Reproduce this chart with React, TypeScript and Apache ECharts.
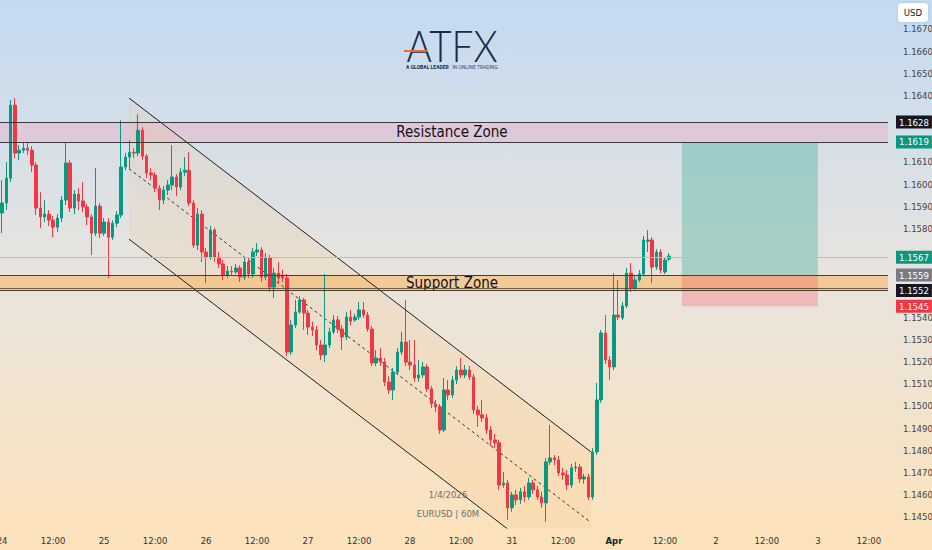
import React, { useEffect, useRef } from 'react';
import * as echarts from 'echarts';

// ---- DATA ----
const tickLabels = ['24', '12:00', '25', '12:00', '26', '12:00', '27', '12:00', '28', '12:00', '31', '12:00', 'Apr', '12:00', '2', '12:00', '3', '12:00'];
const HOURS = 209;
const categories = Array.from({ length: HOURS }, (_, i) => String(i));
const priceLabelTop = 1.1670;

// [open, close, low, high]
const ohlc: number[][] = [
  [1.15870, 1.15915, 1.15779, 1.16018],
  [1.15915, 1.16027, 1.15883, 1.16099],
  [1.16027, 1.16356, 1.16009, 1.16379],
  [1.16356, 1.16140, 1.16117, 1.16388],
  [1.16140, 1.16153, 1.16108, 1.16176],
  [1.16153, 1.16162, 1.16140, 1.16189],
  [1.16162, 1.16153, 1.16131, 1.16189],
  [1.16153, 1.16086, 1.16054, 1.16171],
  [1.16086, 1.15892, 1.15861, 1.16099],
  [1.15892, 1.15852, 1.15802, 1.15964],
  [1.15852, 1.15865, 1.15829, 1.15928],
  [1.15865, 1.15838, 1.15811, 1.15883],
  [1.15838, 1.15806, 1.15761, 1.15856],
  [1.15806, 1.15847, 1.15784, 1.15865],
  [1.15847, 1.15928, 1.15829, 1.15946],
  [1.15928, 1.16095, 1.15906, 1.16185],
  [1.16095, 1.15892, 1.15874, 1.16108],
  [1.15892, 1.15955, 1.15865, 1.15973],
  [1.15955, 1.15924, 1.15883, 1.15982],
  [1.15924, 1.15897, 1.15874, 1.16009],
  [1.15897, 1.15852, 1.15815, 1.15910],
  [1.15852, 1.15779, 1.15680, 1.15865],
  [1.15779, 1.15901, 1.15766, 1.16072],
  [1.15901, 1.15779, 1.15757, 1.15915],
  [1.15779, 1.15829, 1.15766, 1.15847],
  [1.15829, 1.15761, 1.15577, 1.15847],
  [1.15761, 1.15824, 1.15748, 1.15838],
  [1.15824, 1.15861, 1.15806, 1.15879],
  [1.15861, 1.16077, 1.15847, 1.16288],
  [1.16077, 1.16122, 1.16063, 1.16140],
  [1.16122, 1.16144, 1.16063, 1.16198],
  [1.16144, 1.16140, 1.16117, 1.16162],
  [1.16140, 1.16243, 1.16126, 1.16315],
  [1.16243, 1.16126, 1.16108, 1.16257],
  [1.16126, 1.16050, 1.16027, 1.16135],
  [1.16050, 1.16041, 1.16018, 1.16072],
  [1.16041, 1.15982, 1.15964, 1.16054],
  [1.15982, 1.15928, 1.15883, 1.15996],
  [1.15928, 1.15973, 1.15910, 1.15991],
  [1.15973, 1.15996, 1.15951, 1.16018],
  [1.15996, 1.16032, 1.15973, 1.16176],
  [1.16032, 1.15987, 1.15946, 1.16045],
  [1.15987, 1.16054, 1.15973, 1.16072],
  [1.16054, 1.16063, 1.16036, 1.16122],
  [1.16063, 1.15915, 1.15901, 1.16144],
  [1.15915, 1.15725, 1.15712, 1.15928],
  [1.15725, 1.15865, 1.15703, 1.15892],
  [1.15865, 1.15694, 1.15649, 1.15883],
  [1.15694, 1.15671, 1.15554, 1.15712],
  [1.15671, 1.15793, 1.15658, 1.15811],
  [1.15793, 1.15671, 1.15649, 1.15802],
  [1.15671, 1.15640, 1.15622, 1.15694],
  [1.15640, 1.15590, 1.15568, 1.15658],
  [1.15590, 1.15608, 1.15577, 1.15631],
  [1.15608, 1.15604, 1.15586, 1.15631],
  [1.15604, 1.15622, 1.15595, 1.15640],
  [1.15622, 1.15581, 1.15559, 1.15635],
  [1.15581, 1.15649, 1.15568, 1.15667],
  [1.15649, 1.15595, 1.15577, 1.15667],
  [1.15595, 1.15694, 1.15577, 1.15712],
  [1.15694, 1.15703, 1.15676, 1.15734],
  [1.15703, 1.15581, 1.15559, 1.15716],
  [1.15581, 1.15667, 1.15568, 1.15689],
  [1.15667, 1.15536, 1.15514, 1.15680],
  [1.15536, 1.15599, 1.15487, 1.15622],
  [1.15599, 1.15577, 1.15554, 1.15649],
  [1.15590, 1.15577, 1.15559, 1.15613],
  [1.15577, 1.15243, 1.15225, 1.15595],
  [1.15243, 1.15365, 1.15230, 1.15388],
  [1.15365, 1.15424, 1.15352, 1.15478],
  [1.15424, 1.15478, 1.15415, 1.15496],
  [1.15478, 1.15419, 1.15343, 1.15487],
  [1.15419, 1.15356, 1.15320, 1.15433],
  [1.15356, 1.15343, 1.15315, 1.15379],
  [1.15343, 1.15275, 1.15252, 1.15361],
  [1.15275, 1.15230, 1.15207, 1.15297],
  [1.15230, 1.15275, 1.15198, 1.15595],
  [1.15275, 1.15334, 1.15261, 1.15352],
  [1.15334, 1.15388, 1.15324, 1.15410],
  [1.15388, 1.15347, 1.15329, 1.15406],
  [1.15347, 1.15311, 1.15252, 1.15365],
  [1.15311, 1.15401, 1.15297, 1.15424],
  [1.15401, 1.15383, 1.15365, 1.15433],
  [1.15388, 1.15401, 1.15379, 1.15415],
  [1.15401, 1.15433, 1.15388, 1.15469],
  [1.15433, 1.15410, 1.15397, 1.15469],
  [1.15410, 1.15347, 1.15334, 1.15424],
  [1.15347, 1.15194, 1.15180, 1.15361],
  [1.15194, 1.15216, 1.15180, 1.15252],
  [1.15216, 1.15198, 1.15180, 1.15261],
  [1.15198, 1.15108, 1.15090, 1.15216],
  [1.15108, 1.15072, 1.15054, 1.15135],
  [1.15072, 1.15153, 1.15027, 1.15171],
  [1.15153, 1.15243, 1.15140, 1.15261],
  [1.15243, 1.15288, 1.15230, 1.15334],
  [1.15288, 1.15198, 1.15180, 1.15478],
  [1.15198, 1.15185, 1.15162, 1.15297],
  [1.15185, 1.15126, 1.15108, 1.15297],
  [1.15126, 1.15140, 1.15108, 1.15207],
  [1.15140, 1.15176, 1.15126, 1.15198],
  [1.15176, 1.15077, 1.15063, 1.15189],
  [1.15077, 1.15009, 1.14991, 1.15090],
  [1.15009, 1.14996, 1.14973, 1.15027],
  [1.14996, 1.14892, 1.14874, 1.15009],
  [1.14892, 1.15072, 1.14883, 1.15126],
  [1.15072, 1.15050, 1.15027, 1.15117],
  [1.15050, 1.15117, 1.15036, 1.15135],
  [1.15117, 1.15162, 1.15099, 1.15180],
  [1.15162, 1.15140, 1.15126, 1.15216],
  [1.15140, 1.15162, 1.15126, 1.15185],
  [1.15162, 1.15131, 1.15117, 1.15180],
  [1.15131, 1.14982, 1.14964, 1.15144],
  [1.14982, 1.14960, 1.14906, 1.15000],
  [1.14960, 1.14946, 1.14928, 1.15027],
  [1.14946, 1.14892, 1.14874, 1.14964],
  [1.14892, 1.14847, 1.14820, 1.14910],
  [1.14847, 1.14834, 1.14811, 1.14874],
  [1.14834, 1.14644, 1.14622, 1.14847],
  [1.14644, 1.14653, 1.14631, 1.14703],
  [1.14653, 1.14541, 1.14487, 1.14667],
  [1.14541, 1.14599, 1.14523, 1.14613],
  [1.14599, 1.14577, 1.14554, 1.14622],
  [1.14577, 1.14613, 1.14559, 1.14631],
  [1.14613, 1.14590, 1.14568, 1.14640],
  [1.14590, 1.14653, 1.14577, 1.14676],
  [1.14653, 1.14622, 1.14604, 1.14667],
  [1.14622, 1.14590, 1.14577, 1.14640],
  [1.14590, 1.14563, 1.14541, 1.14613],
  [1.14563, 1.14748, 1.14478, 1.14766],
  [1.14748, 1.14766, 1.14734, 1.14915],
  [1.14766, 1.14757, 1.14734, 1.14779],
  [1.14757, 1.14698, 1.14685, 1.14775],
  [1.14698, 1.14689, 1.14667, 1.14721],
  [1.14689, 1.14644, 1.14622, 1.14712],
  [1.14644, 1.14721, 1.14631, 1.14739],
  [1.14721, 1.14725, 1.14703, 1.14748],
  [1.14725, 1.14671, 1.14653, 1.14739],
  [1.14671, 1.14680, 1.14649, 1.14694],
  [1.14680, 1.14590, 1.14577, 1.14694],
  [1.14590, 1.14793, 1.14577, 1.14811],
  [1.14793, 1.15027, 1.14779, 1.15104],
  [1.15027, 1.15329, 1.15014, 1.15343],
  [1.15329, 1.15207, 1.15189, 1.15410],
  [1.15207, 1.15176, 1.15117, 1.15225],
  [1.15176, 1.15410, 1.15162, 1.15599],
  [1.15410, 1.15401, 1.15388, 1.15568],
  [1.15397, 1.15451, 1.15388, 1.15469],
  [1.15451, 1.15599, 1.15442, 1.15622],
  [1.15599, 1.15532, 1.15514, 1.15644],
  [1.15532, 1.15568, 1.15518, 1.15586],
  [1.15568, 1.15595, 1.15559, 1.15613],
  [1.15595, 1.15748, 1.15586, 1.15766],
  [1.15743, 1.15748, 1.15694, 1.15793],
  [1.15748, 1.15626, 1.15554, 1.15761],
  [1.15626, 1.15694, 1.15613, 1.15707],
  [1.15694, 1.15613, 1.15599, 1.15707],
  [1.15604, 1.15658, 1.15595, 1.15671],
  [1.15662, 1.15676, 1.15653, 1.15689],
];

const resistanceZone = [1.1628, 1.1619];
const supportZone = [1.1559, 1.1552];
const supportInnerLine = 1.15532;
const lastPrice = 1.1567;
const longBoxX = [160, 192];
const longTarget = 1.1619;
const longEntry = 1.1559;
const longStop = 1.1545;
const taggedPrices = [resistanceZone[0], resistanceZone[1], lastPrice, supportZone[0], supportZone[1], longStop];

const channelUpper = [[29.86, 1.16388], [138.59, 1.14793]];
const channelLower = [[29.86, 1.15752], [138.59, 1.14158]];
const channelMid = [[29.86, 1.1607], [138.59, 1.14475]];

const NARROW = "'DejaVu Sans Condensed', 'Liberation Sans Narrow', Roboto, sans-serif";
const UP = '#089981';
const DOWN = '#F23645';

function tag(v: number, bg: string, lineColor: string) {
  return {
    yAxis: v,
    lineStyle: { color: lineColor, width: 1, type: 'solid' },
    label: {
      show: true,
      position: 'end',
      formatter: v.toFixed(4),
      backgroundColor: bg,
      color: '#ffffff',
      padding: [2, 3, 1, 3],
      fontSize: 9.5,
      fontFamily: NARROW,
      distance: 8,
    },
  };
}

export default function App() {
  const ref = useRef<HTMLDivElement>(null);
  useEffect(() => {
    document.body.style.margin = '0';
    if (!ref.current) return;
    const chart = echarts.init(ref.current, undefined, { renderer: 'svg' });
    const zoneLabel = { show: true, position: 'inside', offset: [8, 0], color: '#111', fontSize: 15, fontFamily: NARROW };
    const option: any = {
      animation: false,
      backgroundColor: {
        type: 'linear', x: 0, y: 0, x2: 0, y2: 1,
        colorStops: [
          { offset: 0, color: '#c3daf2' },
          { offset: 0.5, color: '#e8e4de' },
          { offset: 1, color: '#fde2ba' },
        ],
      },
      grid: { left: 0, right: 44, top: 0, bottom: 22, containLabel: false, outerBoundsMode: 'none' },
      xAxis: [
        {
          type: 'category',
          data: categories,
          boundaryGap: true,
          axisLine: { show: false },
          axisTick: { show: false },
          splitLine: { show: false },
          axisLabel: {
            interval: 11,
            margin: 7,
            color: '#333',
            fontSize: 9.5,
            fontFamily: NARROW,
            formatter: (val: string) => {
              const t = tickLabels[Math.round(Number(val) / 12)] || '';
              return t === 'Apr' ? '{b|Apr}' : t;
            },
            rich: { b: { fontWeight: 'bold', color: '#222', fontSize: 9.5, fontFamily: NARROW } },
          },
        },
        { type: 'value', min: -0.5, max: HOURS - 0.5, show: false },
      ],
      yAxis: {
        type: 'value',
        position: 'right',
        min: 1.1445,
        max: 1.1683,
        interval: 0.0005,
        axisLine: { show: false },
        axisTick: { show: false },
        splitLine: { show: false },
        axisLabel: {
          margin: 15,
          color: '#444',
          fontSize: 9.5,
          fontFamily: NARROW,
          formatter: (v: number) => {
            if (Math.round(v * 10000) % 10 !== 0) return '';
            if (v > priceLabelTop + 0.0003) return '';
            if (taggedPrices.some((p) => Math.abs(p - v) < 0.00035)) return '';
            return v.toFixed(4);
          },
        },
      },
      series: [
        {
          type: 'custom',
          xAxisIndex: 1,
          yAxisIndex: 0,
          clip: true,
          silent: true,
          data: [[0, 0]],
          renderItem: (_p: any, api: any) => {
            const pts = [channelUpper[0], channelUpper[1], channelLower[1], channelLower[0]].map((p) => api.coord(p));
            return { type: 'polygon', shape: { points: pts }, style: { fill: 'rgba(255,185,100,0.13)' } };
          },
          z: 1,
        },
        {
          type: 'line',
          xAxisIndex: 1,
          yAxisIndex: 0,
          data: channelMid,
          showSymbol: false,
          silent: true,
          lineStyle: { color: '#333', width: 1, type: [3, 3] },
          markArea: {
            silent: true,
            data: [
              [
                { name: 'Resistance Zone', yAxis: resistanceZone[0], itemStyle: { color: 'rgba(242,160,192,0.36)' }, label: zoneLabel },
                { yAxis: resistanceZone[1] },
              ],
              [
                { name: 'Support Zone', yAxis: supportZone[0], itemStyle: { color: 'rgba(255,168,60,0.42)' }, label: zoneLabel },
                { yAxis: supportZone[1] },
              ],
              [{ xAxis: longBoxX[0], yAxis: longTarget, itemStyle: { color: 'rgba(8,153,129,0.28)' } }, { xAxis: longBoxX[1], yAxis: longEntry }],
              [{ xAxis: longBoxX[0], yAxis: longEntry, itemStyle: { color: 'rgba(242,54,69,0.24)' } }, { xAxis: longBoxX[1], yAxis: longStop }],
            ],
          },
          markLine: {
            silent: true,
            precision: 5,
            symbol: ['none', 'none'],
            data: [
              tag(resistanceZone[0], '#131722', '#3a3a3a'),
              tag(resistanceZone[1], UP, '#3a3a3a'),
              tag(lastPrice, UP, '#b8bcc4'),
              tag(supportZone[0], '#787b86', '#4a3d2a'),
              tag(supportZone[1], '#131722', '#4a3d2a'),
              tag(longStop, DOWN, 'rgba(0,0,0,0)'),
              { yAxis: supportInnerLine, lineStyle: { color: '#4a3d2a', width: 1, type: 'solid', opacity: 0.8 }, label: { show: false } },
            ],
          },
          z: 2,
        },
        {
          type: 'candlestick',
          xAxisIndex: 0,
          yAxisIndex: 0,
          data: ohlc,
          barWidth: 3,
          itemStyle: { color: UP, color0: DOWN, borderColor: UP, borderColor0: DOWN, borderWidth: 1 },
          z: 3,
        },
        {
          type: 'line',
          xAxisIndex: 1,
          yAxisIndex: 0,
          data: channelUpper,
          showSymbol: false,
          silent: true,
          lineStyle: { color: '#1e1e1e', width: 1 },
          z: 4,
        },
        {
          type: 'line',
          xAxisIndex: 1,
          yAxisIndex: 0,
          data: channelLower,
          showSymbol: false,
          silent: true,
          lineStyle: { color: '#1e1e1e', width: 1 },
          z: 4,
        },
      ],
      graphic: [
        {
          type: 'rect', z: 100,
          shape: { x: 898, y: 3, width: 30, height: 19, r: 4 },
          style: { fill: '#ffffff', shadowBlur: 2, shadowColor: 'rgba(0,0,0,0.12)' },
        },
        {
          type: 'text', z: 101, x: 913, y: 12.5,
          style: { text: 'USD', fill: '#131722', fontSize: 9.5, fontFamily: NARROW, align: 'center', verticalAlign: 'middle' },
        },
        {
          type: 'text', z: 100, x: 452, y: 46, scaleX: 0.9,
          style: { text: 'ATFX', fill: '#1b2a48', fontSize: 43, fontWeight: 300, fontFamily: 'Lato, sans-serif', align: 'center', verticalAlign: 'middle' },
        },
        {
          type: 'rect', z: 101,
          shape: { x: 404, y: 50, width: 23, height: 2 },
          style: { fill: '#ef6a31' },
        },
        {
          type: 'text', z: 100, x: 452, y: 67,
          style: {
            text: '{a|A GLOBAL LEADER} {c|IN ONLINE TRADING}',
            align: 'center', verticalAlign: 'middle',
            rich: {
              a: { fontSize: 5, fontWeight: 'bold', fill: '#1b2a48', fontFamily: 'Roboto, sans-serif' },
              c: { fontSize: 5, fill: '#3a4a6a', fontFamily: 'Roboto, sans-serif' },
            },
          },
        },
        {
          type: 'text', z: 100, x: 448, y: 494,
          style: { text: '1/4/2026', fill: '#6f6f6f', fontSize: 9.5, fontFamily: NARROW, align: 'center', verticalAlign: 'middle' },
        },
        {
          type: 'text', z: 100, x: 448, y: 513,
          style: { text: 'EURUSD | 60M', fill: '#6f6f6f', fontSize: 9.5, fontFamily: NARROW, align: 'center', verticalAlign: 'middle' },
        },
      ],
    };
    chart.setOption(option);
    return () => chart.dispose();
  }, []);
  return <div ref={ref} style={{ position: 'absolute', left: 0, top: 0, width: 932, height: 550 }} />;
}
